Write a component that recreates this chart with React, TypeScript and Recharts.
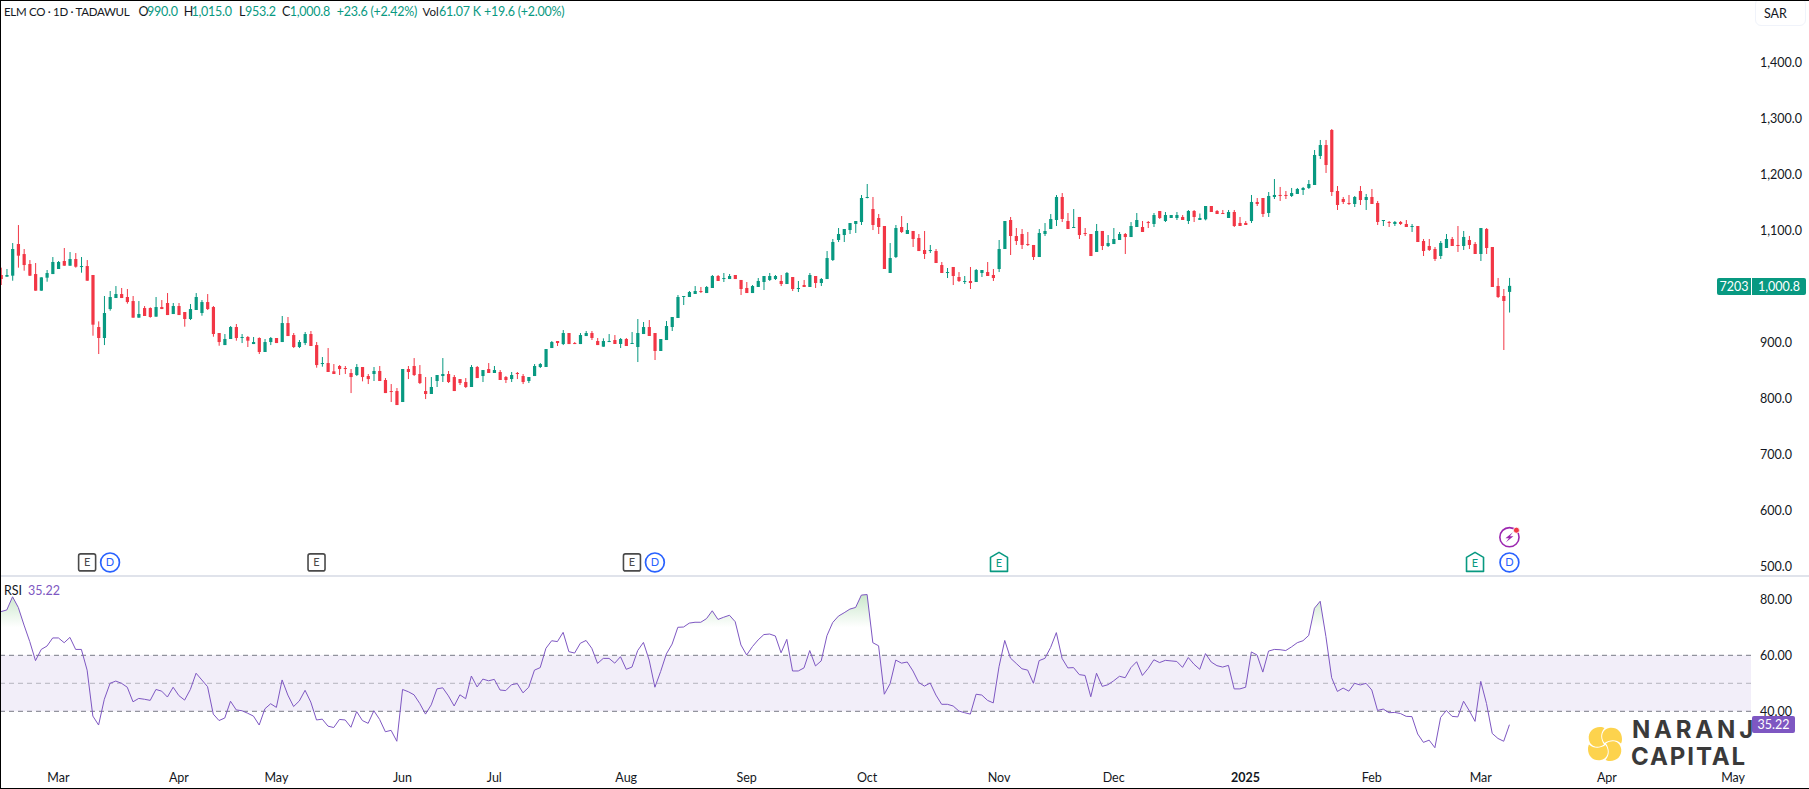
import React from "react";
import { ComposedChart, Bar, Line, Area, XAxis, YAxis, ReferenceLine, ReferenceArea, ReferenceDot } from "recharts";

const opens = [
1020.2,1017.2,1019,1075.5,1057.6,1039.8,1021.9,992.2,1015.4,1021.9,
1030.9,1045.2,1036.8,1048.7,1034.4,1036.2,1020.2,927.3,907.7,959.4,
979.1,986.2,980.9,973.7,944,961.2,961.2,945.8,963,970.2,
950.5,964.8,954.1,941.6,957.7,952.3,971.9,963,916.6,895.1,
905.9,927.3,907.7,909.5,896.9,907.7,882.7,900.5,907.7,900.5,
934.4,913,891.6,898.7,914.8,895.1,861.2,863,848.2,857.7,
854.1,845.2,841.6,855.9,839.8,843.4,848.8,832.7,813,813,
793.4,852.3,857.7,843.4,813,807.7,830.9,839.8,843.4,838,
834.4,829.1,820.2,855.9,839.8,852.3,845.2,847,838,834.4,
845.2,839.8,830.9,839.8,855.9,855.9,889.8,902.3,896.9,916.6,
898.7,896.9,911.2,916.6,902.3,892.2,900.5,904.1,897,905.9,
897,891.6,914.8,927.3,916.6,884.5,904.1,927.3,943.4,980.9,
980.9,986.3,991.6,988,997,1018.4,1013,1013,1020.2,1011.3,
997,988,998.8,1007.7,1011.3,1013,1009.5,1004.1,1016.6,995.2,
1002.3,998.8,1018.4,1005.9,1013,1047,1082.7,1091.6,1100.5,1111.3,
1114.8,1157.7,1138,1122,1107.7,1023.8,1052.3,1105.9,1093.4,1098.8,
1086.3,1064.8,1063,1063,1038,1023.8,1034.5,1016.6,1007.7,1009.5,
1007.7,1023.8,1025.5,1020.2,1030.9,1066.6,1118.4,1089.8,1093.4,1075.5,
1073.8,1052.3,1093.4,1102.3,1118.4,1159.5,1116.6,1104.1,1123.8,1095.2,
1093.4,1061.3,1098.8,1072,1075.5,1082.7,1093.4,1088,1105.9,1105.9,
1114.8,1111.3,1134.5,1116.6,1122,1122,1123.8,1116.6,1134.5,1118.4,
1119.6,1143.4,1134.5,1130.9,1122,1132.7,1113.1,1113.1,1116.6,1150.6,
1157.7,1130.9,1159.5,1163.1,1163.1,1161.3,1164.9,1172,1175.6,1180.9,
1232.7,1252.3,1279.1,1170.2,1155.9,1148.8,1147,1170.2,1154.1,1159.5,
1148.8,1116.6,1114.9,1111.3,1114.9,1111.3,1105.9,1107.7,1080.9,1072,
1066.6,1054.1,1068.4,1084.5,1073.8,1072,1082.7,1075.6,1057.7,1102.4,
1070.2,1000.6,982.7,990];

const highs = [
1033.3,1030.9,1077.3,1109.4,1066.6,1046.9,1041.6,1016,1029.1,1052.3,
1045.2,1068.4,1061.2,1059.4,1052.3,1046.9,1020.2,937.4,982.7,991.6,
1000.5,997,995.2,982.7,973.7,964.8,962.4,980.9,975.5,988,
970.2,970.2,954.1,968.4,988,975.5,986.2,964.8,916.6,914.8,
929.1,932.7,914.8,911.2,909.5,908.9,905.9,909.5,907.7,947,
945.2,916.6,904.1,918.4,920.2,900.5,873.7,889.8,861.2,859.4,
857.7,852.3,861.2,855.9,843.4,855.9,857.7,836.2,825.5,818.4,
852.3,857.7,871.9,859.4,838,838,841.6,871.9,848.8,841.6,
834.4,836.2,859.4,857.7,850.5,863,857.7,850.5,839.8,847,
847,843.4,838,861.2,863,888,902.3,902.3,921.9,916.6,
900.5,916.6,920.2,920.2,907.7,907.1,914.8,913,907.7,907.7,
918.4,941.6,936.3,939.8,916.6,905.9,938,945.2,984.5,982.7,
991.6,1000.5,998.8,1000.5,1020.2,1020.2,1023.8,1022,1020.2,1011.3,
1007.7,1002.3,1014.8,1018.4,1023.8,1020.2,1020.2,1025.5,1016.6,1009.5,
1011.3,1023.8,1018.4,1014.8,1063,1084.5,1104.1,1102.3,1113,1116.6,
1163,1182.7,1159.5,1129.1,1107.7,1077.3,1109.5,1125.5,1113,1098.8,
1093.4,1098.8,1073.8,1066.6,1043.4,1032.7,1034.5,1025.5,1018.4,1034.5,
1030.9,1029.1,1043.4,1030.9,1082.7,1116.6,1123.8,1104.1,1102.3,1097,
1073.8,1102.3,1113,1129.1,1163,1166.6,1130.9,1138,1123.8,1104.1,
1093.4,1111.3,1098.8,1091.6,1104.1,1097,1095.2,1114.8,1130.9,1116.6,
1116.6,1130.9,1134.5,1132.7,1127.3,1132.7,1127.3,1136.2,1136.2,1130,
1143.4,1143.4,1136.3,1136.3,1136.3,1136.3,1123.8,1116.6,1163.1,1157.7,
1157.7,1168.4,1191.6,1177.4,1170.2,1175.6,1175.6,1177.4,1189.8,1243.4,
1261.3,1261.3,1280.9,1179.1,1159.5,1163.1,1161.3,1179.1,1164.9,1173.8,
1152.4,1118.4,1116.6,1116.6,1116.6,1118.4,1111.3,1107.7,1084.5,1084.5,
1070.2,1080.9,1093.4,1088.1,1107.7,1098.8,1089.9,1079.1,1104.1,1104.1,
1070.2,1014.9,995.2,1015];

const lows = [
1002.3,1017.2,1010,1033.3,1027.9,1018.4,992.2,992.2,1008.2,1021.9,
1030.9,1036.8,1036.8,1033.3,1024.3,1010,911.8,879.1,895.1,956.5,
979.1,979.1,969,944,944,947,944,945.8,959.4,948.7,
950.5,948.7,927.9,939.8,957.7,947.5,957.7,910,893.9,895.1,
905.9,902.9,898.7,891.6,896.9,879.1,882.7,895.1,898.7,900.5,
911.2,889.8,889.8,895.1,893.4,854.7,856.5,847,843.4,841.6,
843.4,809.4,839.8,830.3,825.5,830.9,830.9,809.4,793.4,788,
793.4,834.4,839.8,825.5,798.7,807.7,820.2,829.1,827.3,813,
823.8,818.4,820.2,836.2,829.1,845.2,845.2,832.7,827.3,829.1,
834.4,825.5,827.3,839.8,854.1,855.9,889.8,893.4,895.1,896.9,
896.9,896.9,911.2,904.1,895.1,892.2,900.5,897,889.8,893.4,
897,864.8,914.8,911.3,868.4,884.5,904.1,920.2,943.4,966.6,
980.9,986.3,988,988,997,1009.5,1007.7,1013,1013,984.5,
988,988,998.8,993.4,1009.5,1011.3,1000.5,1004.1,991.6,989.8,
998.8,998.8,997,1000.5,1013,1045.2,1079.1,1079.1,1093.4,1095.2,
1109.5,1157.1,1100.5,1093.4,1030.9,1023.8,1050.5,1095.2,1093.4,1070.2,
1063,1048.8,1059.5,1041.6,1023.8,1014.8,1002.3,1007.7,1004.1,995.2,
1007.7,1016.6,1018.4,1009.5,1025.5,1066.6,1055.9,1073.8,1066.6,1072,
1047,1052.3,1089.8,1102.3,1107.7,1114.8,1102.3,1104.1,1084.5,1089.8,
1054.1,1061.3,1064.8,1070.2,1075.5,1082.7,1057.7,1088,1105.9,1097,
1104.1,1105.9,1120.2,1114.8,1122,1118.4,1118.4,1111.3,1114.8,1118.4,
1117.8,1132.7,1129.1,1129.1,1122,1105.9,1107.7,1109.5,1113.1,1143.4,
1123.8,1123.8,1155.9,1152.4,1155.9,1159.5,1164.9,1163.1,1173.8,1180.9,
1227.4,1202.4,1161.3,1136.3,1147,1145.2,1141.6,1145.2,1136.3,1147,
1109.5,1107.7,1105.9,1107.7,1109.5,1105.9,1097,1079.1,1054.1,1063.1,
1045.2,1048.8,1068.4,1072,1061.3,1064.9,1066.6,1057.7,1045.2,1057.7,
998.8,979.1,886.3,953.2];

const closes = [
1013,1020.2,1066.6,1054.7,1038,1019,992.2,1016,1023.7,1043.4,
1043.4,1036.8,1048.7,1035,1036.2,1010,931.5,907.7,952.3,980.9,
986.2,979.1,971.9,944,950.5,947,945.2,963,959.4,948.7,
964.8,948.7,941.6,959.4,980.9,971.9,959.4,914.8,900.5,905.9,
927.3,907.7,909.5,902.9,900.5,882.7,900.5,907.7,898.7,934.4,
911.2,891.6,900.5,914.8,893.4,859.4,863,847,843.4,852.3,
852.3,838,855.9,838,834.4,848.8,830.9,809.4,811.2,788,
852.3,847,841.6,827.3,807.7,820.2,841.6,843.4,829.1,813,
827.3,820.2,855.9,836.2,850.5,845.2,850.5,832.7,832.7,841.6,
843.4,829.1,838,857.7,861.2,888,900.5,898.7,916.6,896.9,
896.9,913,916.6,907.7,895.1,902.3,902.3,897,905.9,893.4,
898.8,916.6,927.3,911.3,884.5,905.9,929.1,945.2,980.9,982.7,
989.8,991.6,989.8,998.8,1018.4,1009.5,1014.8,1018.4,1013,995.2,
988,1000.5,1009.5,1018.4,1018.4,1018.4,1004.1,1023.8,995.2,997,
998.8,1020.2,1005.9,1013,1050.5,1079.1,1093.4,1102.3,1113,1116.6,
1157.7,1159.5,1109.5,1105.9,1030.9,1050.5,1104.1,1097,1100.5,1084.5,
1063,1057.7,1064.8,1041.6,1023.8,1025.5,1018.4,1009.5,1009.5,1005.9,
1029.1,1029.1,1018.4,1014.8,1066.6,1116.6,1089.8,1080.9,1073.8,1073.8,
1052.3,1095.2,1098.8,1120.2,1159.5,1120.2,1102.3,1105.9,1091.6,1093.4,
1054.1,1098.8,1072,1077.3,1084.5,1093.4,1088,1107.7,1118.4,1097,
1113,1127.3,1122,1127.3,1127.3,1127.3,1118.4,1134.5,1123.8,1122,
1143.4,1132.7,1129.1,1129.1,1132.7,1107.7,1107.7,1109.5,1150.6,1147,
1129.1,1161.3,1163.1,1161.3,1161.3,1166.6,1173.8,1175.6,1182.7,1234.5,
1252.3,1216.6,1168.4,1145.2,1150.6,1147,1159.5,1154.1,1159.5,1147,
1114.9,1118.4,1113.1,1114.9,1111.3,1105.9,1107.7,1079.1,1063.1,1064.9,
1048.8,1077.4,1084.5,1072,1072,1088.1,1073.8,1057.7,1104.1,1068.4,
998.8,980.9,973.8,1000.8];

const rsiValues = [
75.6,76.2,80.9,77.1,70.8,64.9,58.1,62.1,63.3,66.2,
66.2,64.5,66.4,62.1,62.1,54.7,38.3,35.1,44.3,50.0,
50.8,50.0,48.6,43.4,44.6,44.3,43.9,47.8,47.2,45.1,
48.6,45.6,44.0,47.8,53.6,51.2,48.8,39.0,36.7,37.6,
43.6,40.5,40.2,39.3,38.3,35.1,40.9,42.7,41.4,51.2,
45.8,41.7,43.7,47.5,43.3,36.9,37.2,34.7,34.2,37.1,
36.9,34.3,39.9,36.7,35.7,40.2,37.1,32.7,33.2,29.3,
47.8,47.0,45.9,42.8,39.0,42.3,48.0,48.4,45.5,41.9,
45.9,44.5,52.6,48.7,51.5,50.9,51.4,47.6,47.4,49.5,
49.9,46.6,48.6,54.7,55.6,62.5,65.2,64.9,68.2,61.3,
60.8,64.3,65.3,62.5,57.1,58.9,58.9,57.2,59.5,55.0,
55.8,61.7,64.6,58.3,48.6,54.2,60.5,64.0,70.0,70.1,
71.5,71.8,71.8,73.1,75.9,72.8,73.6,74.3,72.0,63.7,
60.1,63.1,65.5,67.4,67.6,66.9,60.9,65.7,54.4,54.4,
55.5,61.7,56.2,58.0,67.0,71.7,74.0,75.2,76.5,77.1,
81.5,81.7,64.5,63.4,46.1,49.8,58.3,57.2,57.6,54.4,
50.3,49.0,50.1,45.8,42.5,42.5,41.9,40.1,39.5,39.0,
46.1,45.8,43.9,43.0,55.9,65.3,59.0,57.1,55.2,54.7,
50.0,58.1,58.9,62.8,68.1,58.9,55.5,55.6,53.1,52.8,
45.2,53.6,48.9,49.5,50.9,52.5,52.0,55.6,57.7,52.8,
55.3,58.4,57.4,58.2,58.0,57.8,55.7,59.2,56.8,55.0,
60.6,57.6,56.3,55.8,56.4,48.0,48.0,48.6,61.2,60.1,
54.0,61.5,62.1,62.0,61.7,63.0,64.5,65.2,67.1,76.8,
79.3,66.7,52.0,47.1,48.3,47.2,50.0,49.4,50.0,47.6,
40.3,40.8,39.5,39.6,39.2,38.2,38.1,31.9,28.9,29.7,
27.0,37.8,40.3,38.2,38.0,43.6,40.2,36.4,50.7,42.8,
32.1,30.3,29.3,35.22];

const monthLabels = ["Mar","Apr","May","Jun","Jul","Aug","Sep","Oct","Nov","Dec","2025","Feb","Mar","Apr","May"];
const monthSlots = [10,31,48,70,86,109,130,151,174,194,217,239,258,280,302];
const priceTicks = [500,600,700,800,900,1000,1100,1200,1300,1400];
const rsiTicks = [40,60,80];
const earningsPast = [15,55,110];
const earningsFuture = [174,257];
const dividends = [19,114,263];
const alertSlots = [263];

const PRICE_DOMAIN: [number, number] = [484.5, 1511.25];
const RSI_DOMAIN: [number, number] = [23.68, 88.68];
const X_DOMAIN: [number, number] = [-0.19, 305.12];

const GREEN = "#089981";
const RED = "#F23645";
const PURPLE = "#7E57C2";
const INK = "#131722";
const FONT = "Lato, sans-serif";
const FS = 12.5;

const candles = opens.map((o, i) => ({ i, open: o, high: highs[i], low: lows[i], close: closes[i] }));
const rsiRows = rsiValues.map((rsi, i) => ({ i, rsi }));

function Candle(props: any) {
  const { x, y, width, height, payload } = props;
  const h = Math.abs(height);
  const k = h / (payload.high - payload.low || 1);
  const top = Math.max(payload.open, payload.close);
  const bot = Math.min(payload.open, payload.close);
  const color = payload.close >= payload.open ? GREEN : RED;
  const cx = x + width / 2;
  const bodyY = y + (payload.high - top) * k;
  const bodyH = Math.max((top - bot) * k, 1);
  return (
    <g>
      <rect x={cx - 0.5} y={y} width={1} height={h} fill={color} />
      <rect x={cx - 1.6} y={bodyY} width={3.2} height={bodyH} fill={color} />
    </g>
  );
}

function EBox(props: any) {
  const { cx, cy } = props;
  return (
    <g>
      <rect x={cx - 8.5} y={cy - 8.5} width={17} height={17} rx={2} fill="#fff" stroke="#4A4A4A" strokeWidth={1.6} />
      <text x={cx} y={cy} dy="0.36em" textAnchor="middle" fontFamily={FONT} fontSize={11} fill="#4A4A4A">E</text>
    </g>
  );
}
function EHouse(props: any) {
  const { cx, cy } = props;
  return (
    <g>
      <path d={`M${cx - 8.5} ${cy + 9} V${cy - 5} L${cx} ${cy - 10} L${cx + 8.5} ${cy - 5} V${cy + 9} Z`} fill="#fff" stroke={GREEN} strokeWidth={1.6} strokeLinejoin="round" />
      <text x={cx} y={cy} dy="0.42em" textAnchor="middle" fontFamily={FONT} fontSize={11} fill={GREEN}>E</text>
    </g>
  );
}
function DCircle(props: any) {
  const { cx, cy } = props;
  return (
    <g>
      <circle cx={cx} cy={cy} r={9.4} fill="#fff" stroke="#2962FF" strokeWidth={1.7} />
      <text x={cx} y={cy} dy="0.36em" textAnchor="middle" fontFamily={FONT} fontSize={11} fill="#2962FF">D</text>
    </g>
  );
}
function AlertMark(props: any) {
  const { cx, cy } = props;
  return (
    <g>
      <circle cx={cx} cy={cy} r={9.6} fill="#fff" stroke="#9C27B0" strokeWidth={1.6} />
      <path d={`M${cx + 3.5} ${cy - 5} L${cx - 4} ${cy + 1} H${cx - 0.5} L${cx - 3.5} ${cy + 5} L${cx + 4} ${cy - 1} H${cx + 0.5} Z`} fill="#9C27B0" />
      <circle cx={cx + 7} cy={cy - 7} r={3} fill={RED} stroke="#fff" strokeWidth={0.8} />
    </g>
  );
}

function MonthTick(props: any) {
  const { x, y, payload } = props;
  const label = monthLabels[monthSlots.indexOf(payload.value)];
  return (
    <text x={x} y={y + 21} dy="0.35em" textAnchor="middle" fontFamily={FONT} fontSize={FS} fontWeight={label === "2025" ? 700 : 400} fill={INK}>
      {label}
    </text>
  );
}

const fmtPrice = (v: number) => v.toLocaleString("en-US", { minimumFractionDigits: 1, maximumFractionDigits: 1 });

function T(props: { x: number; y: number; c?: string; children: any; ls?: number; fs?: number }) {
  return (
    <div style={{ position: "absolute", left: props.x, top: props.y - 9, height: 18, lineHeight: "18px", fontFamily: FONT, fontSize: props.fs || FS, letterSpacing: props.ls || 0, color: props.c || INK, whiteSpace: "nowrap" }}>
      {props.children}
    </div>
  );
}

function Tag(props: { x: number; y: number; w: number; h: number; bg: string; r?: string; children: any }) {
  return (
    <div style={{ position: "absolute", left: props.x, top: props.y, width: props.w, height: props.h, background: props.bg, borderRadius: props.r || "2px", color: "#fff", fontFamily: FONT, fontSize: FS, lineHeight: props.h + "px", textAlign: "center" }}>
      {props.children}
    </div>
  );
}

const petal = "M16.5 16 C12 10 14 2 22 0.8 C29 0 34 5 34 12 C34 14 33.5 15.5 33 16.5 C28 12 22 12.5 16.5 16 Z";

function Logo() {
  return (
    <div style={{ position: "absolute", left: 1588, top: 721, width: 160, height: 46 }}>
      <svg width={34} height={34} viewBox="0 0 34 34" style={{ position: "absolute", left: 0, top: 6 }}>
        {[0, 90, 180, 270].map((a) => (
          <path key={a} d={petal} fill="#FDD34D" transform={`rotate(${a} 17 17)`} />
        ))}
      </svg>
      <div style={{ position: "absolute", left: 44, top: -5, fontFamily: "Inter, sans-serif", fontWeight: 700, fontSize: 24, letterSpacing: 3.8, lineHeight: "28px", color: "#3A3A3A" }}>NARANJ</div>
      <div style={{ position: "absolute", left: 43, top: 22, fontFamily: "Inter, sans-serif", fontWeight: 700, fontSize: 24, letterSpacing: 1.9, lineHeight: "28px", color: "#3A3A3A" }}>CAPITAL</div>
    </div>
  );
}

const HY = 11.5;
const HLS = -0.25;

export default function App() {
  return (
    <div style={{ position: "absolute", left: 0, top: 0, width: 1809, height: 789, background: "#fff", overflow: "hidden" }}>
      <div style={{ position: "absolute", left: 0, top: 0 }}>
        <ComposedChart width={1809} height={575} data={candles} margin={{ top: 0, right: 0, bottom: 0, left: 0 }}>
          <XAxis type="number" dataKey="i" domain={X_DOMAIN} allowDataOverflow hide />
          <YAxis
            orientation="right"
            width={58}
            domain={PRICE_DOMAIN}
            allowDataOverflow
            ticks={priceTicks}
            interval={0}
            tickFormatter={fmtPrice}
            axisLine={false}
            tickLine={false}
            tickSize={0}
            tickMargin={9}
            tick={{ fontFamily: FONT, fontSize: FS, fill: INK }}
          />
          <Bar dataKey={(d: any) => [d.low, d.high]} barSize={4} shape={Candle} isAnimationActive={false} />
          {earningsPast.map((s) => <ReferenceDot key={"ep" + s} x={s} y={507} shape={EBox} />)}
          {earningsFuture.map((s) => <ReferenceDot key={"ef" + s} x={s} y={507} shape={EHouse} />)}
          {dividends.map((s) => <ReferenceDot key={"d" + s} x={s} y={507} shape={DCircle} />)}
          {alertSlots.map((s) => <ReferenceDot key={"a" + s} x={s} y={552} shape={AlertMark} />)}
        </ComposedChart>
      </div>

      <div style={{ position: "absolute", left: 0, top: 575, width: 1809, height: 1.5, background: "#E0E3EB" }} />

      <div style={{ position: "absolute", left: 0, top: 575 }}>
        <ComposedChart width={1809} height={214} data={rsiRows} margin={{ top: 0, right: 0, bottom: 0, left: 0 }}>
          <defs>
            <linearGradient id="overbought" x1="0" y1="0" x2="0" y2="1">
              <stop offset="0" stopColor="#4CAF50" stopOpacity={0.5} />
              <stop offset="0.214" stopColor="#4CAF50" stopOpacity={0} />
              <stop offset="1" stopColor="#4CAF50" stopOpacity={0} />
            </linearGradient>
          </defs>
          <XAxis
            type="number"
            dataKey="i"
            domain={X_DOMAIN}
            allowDataOverflow
            ticks={monthSlots}
            interval={0}
            height={32}
            axisLine={false}
            tickLine={false}
            tickSize={0}
            tickMargin={0}
            tick={MonthTick}
          />
          <YAxis
            orientation="right"
            width={58}
            domain={RSI_DOMAIN}
            allowDataOverflow
            ticks={rsiTicks}
            interval={0}
            tickFormatter={(v: number) => v.toFixed(2)}
            axisLine={false}
            tickLine={false}
            tickSize={0}
            tickMargin={9}
            tick={{ fontFamily: FONT, fontSize: FS, fill: INK }}
          />
          <ReferenceArea y1={40} y2={60} fill={PURPLE} fillOpacity={0.1} stroke="none" />
          <ReferenceLine y={60} stroke="#787B86" strokeDasharray="5 4" />
          <ReferenceLine y={50} stroke="#787B86" strokeOpacity={0.5} strokeDasharray="5 4" />
          <ReferenceLine y={40} stroke="#787B86" strokeDasharray="5 4" />
          <Area dataKey="rsi" baseValue={70} type="linear" stroke="none" fill="url(#overbought)" dot={false} activeDot={false} isAnimationActive={false} />
          <Line dataKey="rsi" type="linear" stroke={PURPLE} strokeWidth={1} dot={false} activeDot={false} isAnimationActive={false} />
        </ComposedChart>
      </div>

      <T x={4} y={HY} fs={11.5} ls={-0.3}>ELM CO · 1D · TADAWUL</T>
      <T x={138.5} y={HY}>O</T><T x={147} y={HY} c={GREEN} ls={HLS}>990.0</T>
      <T x={183.7} y={HY}>H</T><T x={191.4} y={HY} c={GREEN} ls={HLS}>1,015.0</T>
      <T x={239} y={HY}>L</T><T x={245} y={HY} c={GREEN} ls={HLS}>953.2</T>
      <T x={282} y={HY}>C</T><T x={289.7} y={HY} c={GREEN} ls={HLS}>1,000.8</T>
      <T x={336.8} y={HY} c={GREEN} ls={HLS}>+23.6 (+2.42%)</T>
      <T x={422.5} y={HY} fs={11.5}>Vol</T><T x={439} y={HY} c={GREEN} ls={HLS}>61.07 K</T>
      <T x={484} y={HY} c={GREEN} ls={HLS}>+19.6 (+2.00%)</T>

      <T x={4} y={590.5}>RSI</T><T x={28} y={590.5} c={PURPLE}>35.22</T>

      <div style={{ position: "absolute", left: 1755, top: -2, width: 51, height: 28, border: "1px solid #F0F3FA", borderRadius: 6, boxSizing: "border-box" }} />
      <T x={1764} y={14}>SAR</T>

      <Tag x={1717} y={278} w={34} h={17} bg={GREEN} r="2px 0 0 2px">7203</Tag>
      <Tag x={1752} y={278} w={54} h={17} bg={GREEN} r="0 2px 2px 0">1,000.8</Tag>
      <Tag x={1752} y={716} w={43} h={17} bg={PURPLE}>35.22</Tag>

      <Logo />

      <div style={{ position: "absolute", left: 0, top: 0, width: 1809, height: 789, boxSizing: "border-box", borderTop: "1px solid #000", borderLeft: "1.5px solid #000", borderBottom: "1.5px solid #000", pointerEvents: "none" }} />
    </div>
  );
}
